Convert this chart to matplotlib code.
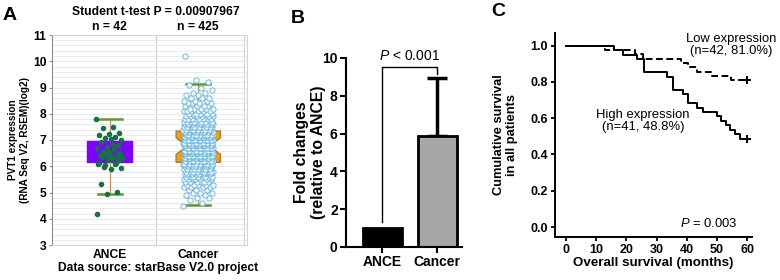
import matplotlib
matplotlib.use('Agg')
import matplotlib.pyplot as plt
import numpy as np
from matplotlib.ticker import MultipleLocator

plt.rcParams['font.family'] = ['Liberation Sans', 'DejaVu Sans']
plt.rcParams['mathtext.fontset'] = 'custom'
plt.rcParams['mathtext.it'] = 'Liberation Sans:italic'
plt.rcParams['mathtext.rm'] = 'Liberation Sans'

# ---------------- data ----------------
# A: PVT1 expression from starBase
groups = ['ANCE', 'Cancer']
group_n = [42, 425]
ance_vals = [7.80, 7.51, 7.47, 7.25, 7.22, 7.19, 7.10, 7.06, 7.00, 7.03,
             6.91, 6.81, 6.75, 6.71, 6.62, 6.56, 6.49, 6.43, 6.43, 6.36,
             6.43, 6.30, 6.30, 6.36, 6.24, 6.24, 6.07, 6.07, 5.98, 5.92,
             5.88, 5.34, 5.03, 4.93, 4.17, 6.81, 6.56, 6.43, 6.56, 6.11,
             6.11, 6.05]
# cancer points, read as counts per 0.1 level
cancer_levels = [4.5, 4.6, 4.7, 4.8, 4.9, 5.0, 5.1, 5.2, 5.3, 5.4,
                 5.5, 5.6, 5.7, 5.8, 5.9, 6.0, 6.1, 6.2, 6.3, 6.4,
                 6.5, 6.6, 6.7, 6.8, 6.9, 7.0, 7.1, 7.2, 7.3, 7.4,
                 7.5, 7.6, 7.7, 7.8, 7.9, 8.0, 8.1, 8.2, 8.3, 8.4,
                 8.5, 8.6, 8.7, 8.8, 8.9, 9.0, 9.1, 9.2, 9.3, 10.2]
cancer_counts = [1, 1, 1, 2, 2, 3, 3, 4, 5, 6,
                 7, 8, 10, 11, 12, 13, 14, 16, 18, 18,
                 18, 19, 19, 19, 18, 19, 18, 16, 15, 14,
                 13, 12, 11, 9, 8, 7, 6, 5, 4, 4,
                 3, 3, 2, 2, 1, 1, 1, 1, 1, 1]
box_q1 = [6.15, 6.15]
box_med = [6.45, 6.77]
box_q3 = [6.95, 7.34]
whisk_lo = [4.93, 4.52]
whisk_hi = [7.80, 9.13]
notch_lo = [6.45, 6.45]
notch_hi = [6.45, 7.08]

# B: qPCR fold change
b_groups = ['ANCE', 'Cancer']
fold_mean = [1.0, 5.85]
fold_err = [0.0, 3.1]

# C: Kaplan-Meier curves
low_t = [0, 13, 23, 25.5, 38, 40.5, 43.5, 48.5, 54.5, 60]
low_s = [1.0, 0.976, 0.952, 0.929, 0.905, 0.881, 0.857, 0.833, 0.810, 0.810]
high_t = [0, 16, 19, 23.5, 26, 33.5, 35.5, 38.8, 40.5, 43.5, 45.5, 50, 51.5,
          53, 54.3, 56, 57.5, 60]
high_s = [1.0, 0.976, 0.951, 0.927, 0.854, 0.829, 0.756, 0.732, 0.683, 0.659,
          0.634, 0.610, 0.585, 0.561, 0.537, 0.512, 0.488, 0.488]

fig = plt.figure(figsize=(7.8, 2.8), dpi=100)

# ================= panel A =================
axA = fig.add_axes([0.0667, 0.125, 0.25, 0.75])
axA.set_xlim(0.35, 2.55)
axA.set_ylim(3, 11)
axA.yaxis.set_major_locator(MultipleLocator(1))
axA.yaxis.set_minor_locator(MultipleLocator(0.2))
axA.grid(which='both', axis='y', color='#e6e6e6', lw=0.6, zorder=0)
axA.set_axisbelow(True)
for xv in [1.52, 2.52]:
    axA.axvline(xv, color='#cfcfcf', lw=0.8, zorder=0)

box_colors = ['#7f00ff', '#ff9c00']
box_edges = ['#7f00ff', '#a67c3a']
for i in range(2):
    st = dict(med=box_med[i], q1=box_q1[i], q3=box_q3[i], whislo=whisk_lo[i],
              whishi=whisk_hi[i], cilo=notch_lo[i], cihi=notch_hi[i], fliers=[])
    axA.bxp([st], positions=[i + 1], widths=0.5, showfliers=False,
            shownotches=(i == 1), patch_artist=True, capwidths=[0.27],
            boxprops=dict(facecolor=box_colors[i], edgecolor=box_edges[i], lw=1),
            medianprops=dict(color=box_edges[i], lw=1),
            whiskerprops=dict(color='#c9935f', lw=0.9),
            capprops=dict(color='#5f9636', lw=1.8))

golden = 0.6180339887
ance_x = [1 + (((k * golden) % 1) - 0.5) * 0.30 for k in range(len(ance_vals))]
axA.plot(ance_x, ance_vals, 'o', ms=3, color='#17704a', mec='#17704a', zorder=4)

cancer_y = []
for lv, c in zip(cancer_levels, cancer_counts):
    cancer_y += [lv] * c
cancer_x = [2 + (((k * golden) % 1) - 0.5) * 0.34 for k in range(len(cancer_y))]
axA.plot(cancer_x, cancer_y, 'o', ms=3.8, mfc='#f2f9fd', mec='#5eb0dc',
         mew=0.6, zorder=4)

axA.set_xticks([1, 2])
axA.set_xticklabels(groups, fontweight='bold', fontsize=8.7)
axA.tick_params(axis='x', length=0, pad=3)
axA.tick_params(axis='y', which='major', length=2, color='#909090', labelsize=8.7, pad=2)
axA.tick_params(axis='y', which='minor', length=0)
for lb in axA.get_yticklabels():
    lb.set_fontweight('bold')
for s in ['top', 'right', 'bottom']:
    axA.spines[s].set_color('#d6d6d6')
axA.spines['left'].set_color('#8c8c8c')
axA.set_ylabel('PVT1 expression\n(RNA Seq V2, RSEM)(log2)', fontweight='bold',
               fontsize=7.2, linespacing=1.3)
axA.yaxis.set_label_coords(-0.113, 0.5)
for i, n in enumerate(group_n):
    axA.annotate('n = %d' % n, xy=(i + 1, 1.04), xycoords=('data', 'axes fraction'),
                 ha='center', va='center', fontweight='bold', fontsize=8.7)
fig.text(156 / 780, 1 - 12 / 280, 'Student t-test P = 0.00907967', ha='center',
         va='center', fontweight='bold', fontsize=8.7)
fig.text(158 / 780, 1 - 268 / 280, 'Data source: starBase V2.0 project', ha='center',
         va='center', fontweight='bold', fontsize=8.7)

# ================= panel B =================
axB = fig.add_axes([0.4436, 0.118, 0.1487, 0.675])
xb = np.arange(len(b_groups))
axB.bar(xb, fold_mean, width=0.71, color=['black', '#a6a6a6'], edgecolor='black',
        lw=2, zorder=2)
for i in range(len(b_groups)):
    if fold_err[i] > 0:
        axB.errorbar(xb[i], fold_mean[i], yerr=[[0], [fold_err[i]]], fmt='none',
                     ecolor='black', elinewidth=2.5, capsize=7.5, capthick=2.5, zorder=1)
axB.set_xlim(-0.66, 1.45)
axB.set_ylim(0, 10)
axB.set_yticks(np.arange(0, 11, 2))
axB.set_xticks(xb)
axB.set_xticklabels(b_groups, fontweight='bold', fontsize=10)
for lb in axB.get_yticklabels():
    lb.set_fontweight('bold')
axB.tick_params(labelsize=10, width=1.5, length=4, pad=2)
axB.spines['top'].set_visible(False)
axB.spines['right'].set_visible(False)
axB.spines['left'].set_linewidth(1.5)
axB.spines['bottom'].set_linewidth(1.5)
axB.set_ylabel('Fold changes\n(relative to ANCE)', fontweight='bold', fontsize=11.3,
               linespacing=1.2)
axB.yaxis.set_label_coords(-0.172, 0.5)
top_y = fold_mean[1] + fold_err[1] + 0.55
axB.plot([xb[0], xb[0], xb[1], xb[1]],
         [fold_mean[0] + 0.3, top_y, top_y, fold_mean[1] + fold_err[1] + 0.2],
         color='black', lw=1, clip_on=False)
axB.text(0.5, top_y + 0.6, r'$\mathit{P}$ < 0.001', ha='center', va='center',
         fontsize=10)

# ================= panel C =================
axC = fig.add_axes([0.7115, 0.1536, 0.2526, 0.7286])
axC.step(low_t, low_s, where='post', color='black', lw=1.4, dashes=(3.5, 1.8))
axC.step(high_t, high_s, where='post', color='black', lw=1.4)
axC.plot([low_t[-1]], [low_s[-1]], '+', color='black', ms=6, mew=1.4)
axC.plot([high_t[-1]], [high_s[-1]], '+', color='black', ms=6, mew=1.4)
axC.set_xlim(-3.6, 61.6)
axC.set_ylim(-0.055, 1.07)
axC.set_xticks(np.arange(0, 61, 10))
axC.set_yticks(np.arange(0, 1.01, 0.2))
axC.set_yticklabels(['%.1f' % v for v in np.arange(0, 1.01, 0.2)])
for lb in axC.get_xticklabels() + axC.get_yticklabels():
    lb.set_fontweight('bold')
axC.tick_params(labelsize=9, width=1.3, length=3, pad=2)
axC.spines['top'].set_visible(False)
axC.spines['right'].set_visible(False)
axC.spines['left'].set_linewidth(1.4)
axC.spines['bottom'].set_linewidth(1.4)
axC.set_ylabel('Cumulative survival\nin all patients', fontweight='bold', fontsize=9.3,
               linespacing=1.05)
axC.yaxis.set_label_coords(-0.188, 0.5)
axC.set_xlabel('Overall survival (months)', fontweight='bold', fontsize=9.6, labelpad=1)
axC.text(54.6, 1.005, 'Low expression\n(n=42, 81.0%)', ha='center', va='center',
         fontsize=9.4, linespacing=1.05)
axC.text(25.5, 0.585, 'High expression\n(n=41, 48.8%)', ha='center', va='center',
         fontsize=9.4, linespacing=1.05)
axC.text(47.4, 0.017, r'$\mathit{P}$ = 0.003', ha='center', va='center', fontsize=9.4)

# panel letters
fig.text(10 / 780, 1 - 16 / 280, 'A', fontsize=14, fontweight='bold', ha='center', va='center')
fig.text(298 / 780, 1 - 18.5 / 280, 'B', fontsize=14, fontweight='bold', ha='center', va='center')
fig.text(498 / 780, 1 - 12 / 280, 'C', fontsize=14, fontweight='bold', ha='center', va='center')

fig.savefig('out.png', dpi=100)
